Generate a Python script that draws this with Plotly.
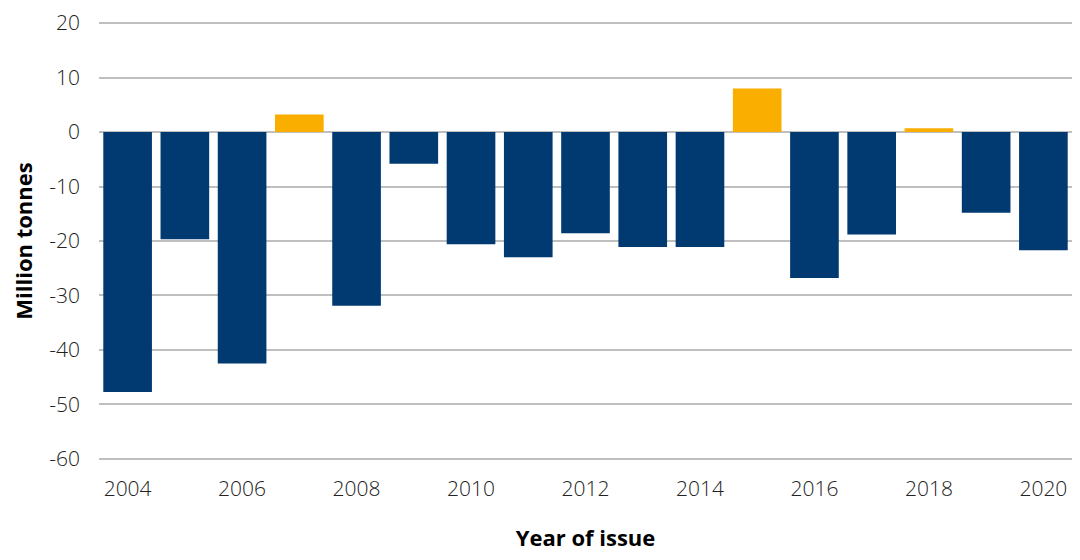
import plotly.graph_objects as go

years = list(range(2004, 2021))
values = [-47.7, -19.7, -42.5, 3.2, -31.9, -5.8, -20.6, -23.0, -18.6, -21.1, -21.1,
          8.0, -26.8, -18.8, 0.7, -14.8, -21.7]
x_ticks = [2004, 2006, 2008, 2010, 2012, 2014, 2016, 2018, 2020]
y_ticks = [20, 10, 0, -10, -20, -30, -40, -50, -60]

BLUE = "#003A70"
GOLD = "#F9AE00"
colors = [GOLD if v > 0 else BLUE for v in values]

fig = go.Figure(go.Bar(x=years, y=values, marker=dict(color=colors, line=dict(width=0)),
                       width=0.85))

fig.update_layout(
    width=1064, height=544,
    margin=dict(l=91, r=0, t=14, b=92),
    paper_bgcolor="white", plot_bgcolor="white",
    font=dict(family="Open Sans", color="#222222", size=21),
    showlegend=False,
)
fig.update_xaxes(
    range=[2003.5, 2020.5], tickvals=x_ticks, ticktext=[str(t) for t in x_ticks],
    showgrid=False, zeroline=False, showline=False, automargin=False,
    ticks="", ticklabelstandoff=14,
    tickfont=dict(size=21, family="Open Sans", weight=300, color="#222"),
    title=dict(text="Year of issue", font=dict(size=22, family="Open Sans", weight=700, color="#000"),
               standoff=38),
)
fig.update_yaxes(
    range=[-60.2, 20.2], tickvals=y_ticks, ticktext=[str(t) for t in y_ticks],
    showgrid=True, gridcolor="#bfbfbf", gridwidth=1.5,
    zeroline=True, zerolinecolor="#bfbfbf", zerolinewidth=1.5,
    showline=False, automargin=False,
    ticks="", ticklabelstandoff=18,
    tickfont=dict(size=21, family="Open Sans", weight=300, color="#222"),
    title=dict(text="Million tonnes", font=dict(size=22, family="Open Sans", weight=700, color="#000"),
               standoff=11),
)

fig.write_html("out.html")
